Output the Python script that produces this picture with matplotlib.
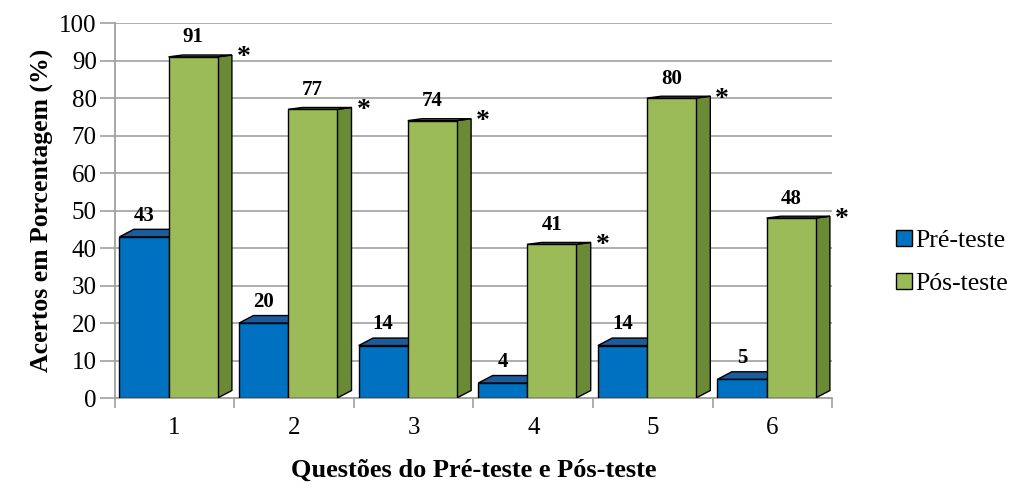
import matplotlib
matplotlib.use("Agg")
import matplotlib.pyplot as plt
from matplotlib.patches import Polygon, Patch
import numpy as np

questions = ["1", "2", "3", "4", "5", "6"]
pre_teste = [43, 20, 14, 4, 14, 5]
pos_teste = [91, 77, 74, 41, 80, 48]
significant = [True, True, True, True, True, True]

plt.rcParams['font.family'] = ['Liberation Serif', 'DejaVu Serif']

blue, blue_dark = "#0070C0", "#1B5D9C"
green, green_dark = "#9BBB59", "#6A8A35"

fig = plt.figure(figsize=(10.15, 4.92), dpi=100)
ax = fig.add_axes([0.113, 0.191, 0.707, 0.762])

x = np.arange(1, len(questions) + 1)
w = 0.41
dx, dy = 0.12, 2.0

for xi, p, q, s in zip(x, pre_teste, pos_teste, significant):
    # blue bar + top face
    bx0 = xi - 0.46
    ax.bar(bx0, p, width=w, align='edge', color=blue, edgecolor='black', lw=1, zorder=3)
    ax.add_patch(Polygon([(bx0, p), (bx0 + w, p), (bx0 + w + dx, p + dy), (bx0 + dx, p + dy)],
                         closed=True, facecolor=blue_dark, edgecolor='black', lw=1, zorder=3))
    ax.text(bx0 + w / 2, p + 3, str(p), ha='center', va='bottom', fontsize=15,
            fontweight='bold', zorder=5)
    # green bar + side face
    gx0 = xi - 0.05
    ax.add_patch(Polygon([(gx0 + w, 0), (gx0 + w + dx, dy), (gx0 + w + dx, q + 0.5), (gx0 + w, q)],
                         closed=True, facecolor=green_dark, edgecolor='black', lw=1, zorder=4))
    ax.add_patch(Polygon([(gx0, q), (gx0 + w, q), (gx0 + w + dx, q + 0.5), (gx0 + dx, q + 0.5)],
                         closed=True, facecolor=green_dark, edgecolor='black', lw=1, zorder=4))
    ax.bar(gx0, q, width=w, align='edge', color=green, edgecolor='black', lw=1, zorder=4)
    ax.text(gx0 + w / 2, q + 2.5, str(q), ha='center', va='bottom', fontsize=15,
            fontweight='bold', zorder=5)
    if s:
        ax.text(xi + 0.58, q - 2, "*", ha='center', va='baseline', fontsize=20,
                fontweight='bold', zorder=5)

ax.set_xlim(0.5, 6.5)
ax.set_ylim(0, 100)
ax.set_yticks(range(0, 101, 10))
ax.set_xticks(x)
ax.set_xticklabels(questions, fontsize=18)
ax.set_xticks(np.arange(0.5, 7, 1), minor=True)
ax.tick_params(axis='x', which='major', length=0, pad=14)
ax.tick_params(axis='x', which='minor', length=7, color='#A0A0A0', width=1.2)
ax.tick_params(axis='y', length=11, color='#A0A0A0', width=1.2, labelsize=18, pad=2)
ax.yaxis.grid(True, color='#A8A8A8', lw=1.3, zorder=0)
ax.set_axisbelow(True)
for side in ['top', 'right']:
    ax.spines[side].set_visible(False)
for side in ['left', 'bottom']:
    ax.spines[side].set_color('#A0A0A0')
    ax.spines[side].set_linewidth(1.3)

ax.set_ylabel("Acertos em Porcentagem (%)", fontsize=18.5, fontweight='bold', labelpad=4)
ax.set_xlabel("Questões do Pré-teste e Pós-teste", fontsize=19, fontweight='bold', labelpad=14)

handles = [Patch(facecolor=blue, edgecolor='black', label='Pré-teste'),
           Patch(facecolor=green, edgecolor='black', label='Pós-teste')]
fig.legend(handles=handles, loc='center left', bbox_to_anchor=(0.883, 0.467), frameon=False,
           prop={'family': ['Liberation Serif'], 'size': 18.5},
           handlelength=0.6, handleheight=0.6, handletextpad=0.15,
           labelspacing=0.8, borderaxespad=0, borderpad=0)

fig.savefig("out.png", dpi=100)
